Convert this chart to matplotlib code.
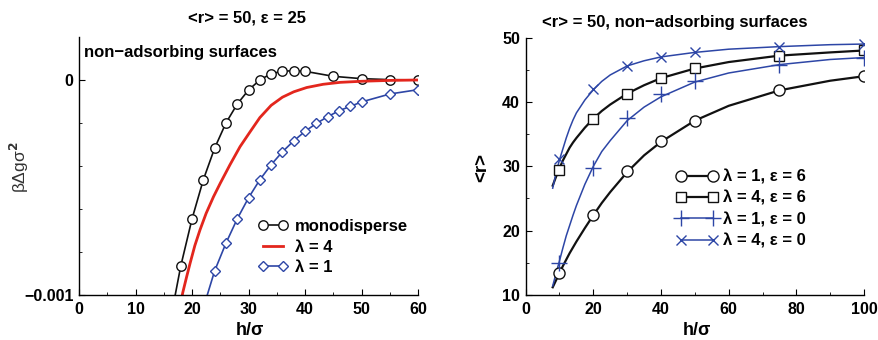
import matplotlib
matplotlib.use("Agg")
import matplotlib.pyplot as plt
import matplotlib.ticker as mtick

INK = "#111111"
BLUE = "#2d46a6"
RED = "#e3261d"

# left panel: free energy vs separation
mono_h = [16, 18, 20, 22, 24, 26, 28, 30, 32, 34, 36, 38, 40, 45, 50, 55, 60]
mono_g = [-0.00114, -0.000866, -0.000646, -0.000464, -0.000317, -0.000200, -0.000112,
          -0.0000466, 0.0, 0.0000295, 0.0000404, 0.0000435, 0.0000404, 0.0000171,
          0.0000062, 0.0000016, 0.0]
lam4_h = [18.0, 18.35, 19.0, 19.65, 20.5, 21.4, 22.5, 23.8, 25.0, 26.7, 28.5, 30.3, 32.0,
          34.0, 36.0, 38.0, 40.3, 43.2, 46.2, 50.0, 55.0, 60.0]
lam4_g = [-0.00104, -0.00099, -0.00092, -0.000853, -0.00077, -0.000698, -0.00062, -0.000543,
          -0.00048, -0.000395, -0.00031, -0.00024, -0.000175, -0.000118, -0.00008, -0.000055,
          -0.000035, -0.00002, -0.000011, -0.000006, -0.000002, 0.0]
lam1_h = [22, 24, 26, 28, 30, 32, 34, 36, 38, 40, 42, 44, 46, 48, 50, 55, 60]
lam1_g = [-0.00106, -0.000888, -0.000759, -0.000646, -0.000548, -0.000464, -0.000394,
          -0.000334, -0.000283, -0.000239, -0.000202, -0.000171, -0.000143, -0.000123,
          -0.000102, -0.0000652, -0.000045]

# right panel: mean length vs separation (markers = simulation, lines = theory)
sim_h = [10, 20, 30, 40, 50, 75, 100]
r_l1_e6 = [13.4, 22.4, 29.2, 33.9, 37.1, 41.8, 44.0]
r_l4_e6 = [29.5, 37.4, 41.3, 43.7, 45.2, 47.15, 48.0]
r_l1_e0 = [14.9, 29.8, 37.5, 41.2, 43.3, 45.75, 46.9]
r_l4_e0 = [31.1, 42.0, 45.6, 47.0, 47.8, 48.6, 49.0]

fit_h = [8, 9, 10, 11, 12, 13, 14, 15, 17.5, 20, 22.5, 25, 30, 35, 40, 50, 60, 75, 90, 100]
fit_l1_e6 = [11.2, 12.3, 13.4, 14.5, 15.5, 16.5, 17.4, 18.3, 20.4, 22.4, 24.3, 26.0, 29.1,
             31.7, 33.8, 37.1, 39.4, 41.8, 43.3, 44.0]
fit_l4_e6 = [27.0, 28.4, 29.7, 30.9, 31.9, 32.9, 33.7, 34.4, 36.0, 37.4, 38.6, 39.6, 41.3,
             42.6, 43.7, 45.2, 46.2, 47.2, 47.7, 48.0]
fit_l1_e0 = [11.4, 13.4, 15.3, 17.3, 19.2, 20.8, 22.4, 23.9, 27.2, 30.0, 32.3, 34.0, 37.1,
             39.2, 40.8, 43.1, 44.5, 45.8, 46.6, 46.9]
fit_l4_e0 = [26.6, 29.0, 31.0, 32.7, 34.4, 35.9, 37.2, 38.3, 40.3, 41.9, 43.2, 44.2, 45.6,
             46.4, 47.0, 47.7, 48.2, 48.6, 48.9, 49.0]

plt.rcParams.update({
    "font.family": ["Liberation Sans", "DejaVu Sans"],
    "font.size": 12,
    "font.weight": "bold",
    "axes.labelweight": "bold",
    "axes.linewidth": 1.0,
    "axes.spines.top": False,
    "axes.spines.right": False,
    "xtick.direction": "in",
    "ytick.direction": "in",
    "xtick.major.size": 4,
    "ytick.major.size": 4,
    "xtick.minor.size": 2.5,
    "ytick.minor.size": 2.5,
    "legend.frameon": False,
})

fig = plt.figure(figsize=(8.79, 3.40), dpi=100)
ax1 = fig.add_axes([0.0899, 0.1324, 0.3857, 0.7588])
ax2 = fig.add_axes([0.598, 0.1324, 0.385, 0.757])

# left
ax1.plot(mono_h, mono_g, color=INK, lw=1.2, marker="o", ms=6.8, mfc="white",
         mec=INK, mew=1.0, label="monodisperse")
ax1.plot(lam4_h, lam4_g, color=RED, lw=2.0, label="λ = 4")
ax1.plot(lam1_h, lam1_g, color=BLUE, lw=1.2, marker="D", ms=5, mfc="white",
         mec=BLUE, mew=1.0, label="λ = 1")
ax1.set_xlim(0, 60)
ax1.set_ylim(-0.001, 0.0002)
ax1.set_xticks(range(0, 61, 10))
ax1.xaxis.set_minor_locator(mtick.MultipleLocator(5))
ax1.set_yticks([-0.001, 0.0])
ax1.set_yticklabels(["−0.001", "0"])
ax1.yaxis.set_minor_locator(mtick.FixedLocator([-0.0008, -0.0006, -0.0004, -0.0002]))
ax1.set_xlabel("h/σ", fontsize=13)
ax1.xaxis.set_label_coords(0.504, -0.104)
ax1.set_ylabel("βΔgσ$^{2}$", fontsize=12.5, fontweight="normal", color="#333333")
ax1.yaxis.set_label_coords(-0.142, 0.496)
ax1.text(0.015, 0.94, "non−adsorbing surfaces", transform=ax1.transAxes,
         fontsize=12, va="center", ha="left")
ax1.legend(loc="center left", bbox_to_anchor=(258 / 879, 1 - 247 / 340),
           bbox_transform=fig.transFigure, borderpad=0, borderaxespad=0,
           handlelength=1.8, handletextpad=0.4, labelspacing=0.32, numpoints=2)

# right
ax2.plot(fit_h, fit_l1_e6, color=INK, lw=1.6)
ax2.plot(fit_h, fit_l4_e6, color=INK, lw=1.6)
ax2.plot(fit_h, fit_l1_e0, color=BLUE, lw=1.1)
ax2.plot(fit_h, fit_l4_e0, color=BLUE, lw=1.1)
ax2.plot(sim_h, r_l1_e6, ls="none", marker="o", ms=8, mfc="white", mec=INK, mew=1.0)
ax2.plot(sim_h, r_l4_e6, ls="none", marker="s", ms=6.5, mfc="white", mec=INK, mew=1.0)
ax2.plot(sim_h, r_l1_e0, ls="none", marker="+", ms=11, mec=BLUE, mew=1.0)
ax2.plot(sim_h, r_l4_e0, ls="none", marker="x", ms=7.5, mec=BLUE, mew=1.0)

# legend proxies
h1, = ax2.plot([], [], color=INK, lw=1.6, marker="o", ms=8, mfc="white", mec=INK, mew=1.0)
h2, = ax2.plot([], [], color=INK, lw=1.6, marker="s", ms=6.5, mfc="white", mec=INK, mew=1.0)
h3, = ax2.plot([], [], color=BLUE, lw=1.1, marker="+", ms=11, mec=BLUE, mew=1.0)
h4, = ax2.plot([], [], color=BLUE, lw=1.1, marker="x", ms=7.5, mec=BLUE, mew=1.0)
ax2.legend([h1, h2, h3, h4],
           ["λ = 1, ε = 6", "λ = 4, ε = 6", "λ = 1, ε = 0", "λ = 4, ε = 0"],
           loc="center left", bbox_to_anchor=(676 / 879, 1 - 209 / 340),
           bbox_transform=fig.transFigure, borderpad=0, borderaxespad=0,
           handlelength=2.5, handletextpad=0.3, labelspacing=0.38, numpoints=2)
ax2.set_xlim(0, 100)
ax2.set_ylim(10, 50)
ax2.set_xticks(range(0, 101, 20))
ax2.xaxis.set_minor_locator(mtick.MultipleLocator(10))
ax2.set_yticks(range(10, 51, 10))
ax2.yaxis.set_minor_locator(mtick.MultipleLocator(5))
ax2.set_xlabel("h/σ", fontsize=13)
ax2.xaxis.set_label_coords(0.506, -0.104)
ax2.set_ylabel("<r>", fontsize=13.5)
ax2.yaxis.set_label_coords(-0.106, 0.494)

for ax in (ax1, ax2):
    ax.tick_params(axis="x", which="major", labelsize=11.5, pad=5)
    ax.tick_params(axis="y", which="major", labelsize=11.5, pad=4)
    for lab in ax.get_xticklabels() + ax.get_yticklabels():
        lab.set_fontweight("bold")

fig.text(247 / 879, 1 - 18 / 340, "<r> = 50, ε = 25", ha="center", va="center", fontsize=12)
fig.text(675 / 879, 1 - 23 / 340, "<r> = 50, non−adsorbing surfaces", ha="center",
         va="center", fontsize=12)

fig.savefig("out.png", dpi=100)
